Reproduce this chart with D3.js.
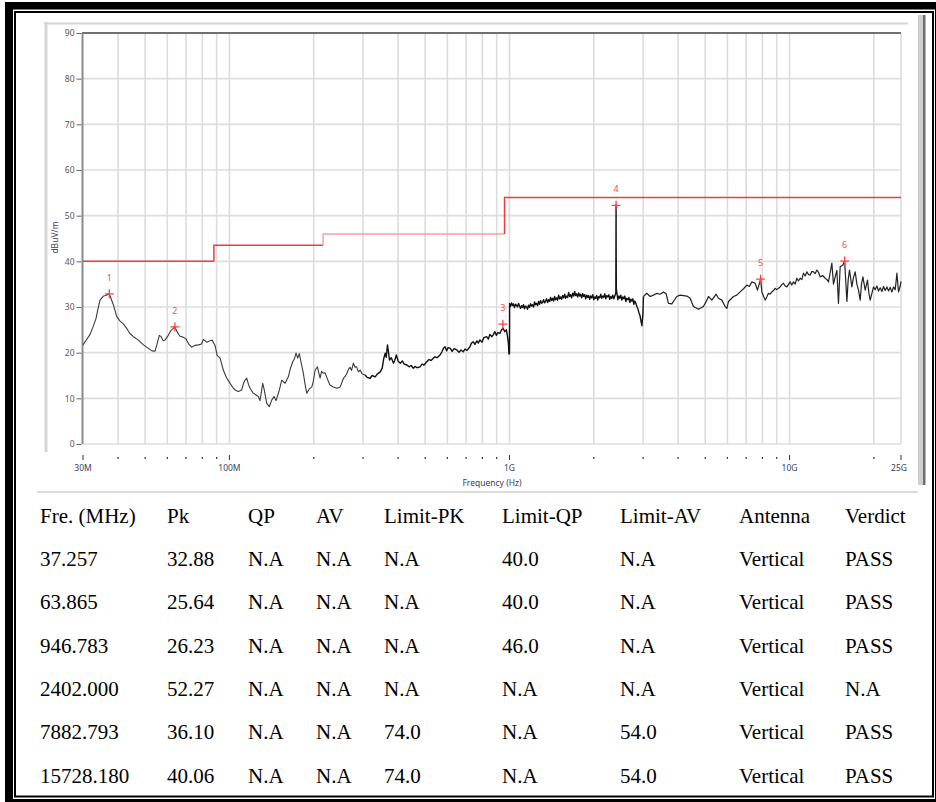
<!DOCTYPE html>
<html><head><meta charset="utf-8">
<script src="https://cdn.jsdelivr.net/npm/d3@7"></script>
<style>body{margin:0;background:#fff}svg{display:block}</style>
</head><body><svg id="c" width="936" height="802"></svg>
<script>
// ---------- data ----------
const yTicks = [0,10,20,30,40,50,60,70,80,90];
const xTickValues = [30,100,1000,10000,25000];
const xTickLabels = ["30M","100M","1G","10G","25G"];
const gridFreqs = [40,50,60,70,80,90,100,200,300,400,500,600,700,800,900,1000,2000,3000,4000,5000,6000,7000,8000,9000,10000,20000];
const limitFreqs = [30,88,216,960,25000];
const limitLevels = [40,43.5,46,54];
const limitColors = ["#f03c3c","#f03c3c","#f4a3a3","#f03c3c"];

// measured trace (frequency MHz, level dBuV/m)
const traceLow = [[30,21.7],[30.7,22.6],[31.8,24.0],[32.6,25.7],[33.4,27.5],[33.9,29.5],[34.5,31.5],[35.5,32.4],[36.2,32.5],[37.257,32.88],[37.8,31.8],[38.5,30.5],[39.6,27.9],[40.7,26.9],[41.8,26.3],[43.1,25.2],[44.1,24.2],[45.4,23.5],[47.2,22.8],[49.3,21.7],[51.2,21.0],[52.9,20.4],[54.2,20.3],[55.1,21.8],[56.2,23.8],[57.0,23.5],[58.0,22.6],[58.9,22.8],[60.5,23.8],[61.9,24.9],[63.865,25.64],[65.0,24.6],[66.6,23.6],[68.3,23.4],[70.0,23.0],[71.7,21.8],[73.3,21.2],[75.4,21.6],[77.4,21.7],[79.5,21.9],[80.7,22.9],[82.9,22.3],[85.3,22.6],[86.7,22.8],[88.9,21.5],[90.4,19.4],[92.6,18.8],[95.1,16.2],[97.4,14.6],[100,13.5]];
const traceMid = [[103.3,12.2],[105.6,11.7],[107.6,11.5],[110.6,11.8],[112.3,13.3],[113.7,14.0],[115.3,14.4],[117.0,13.0],[118.5,12.2],[121.4,11.2],[123.4,10.9],[126.8,10.4],[128.6,9.5],[131.5,13.3],[133.2,11.8],[135.9,8.9],[138.8,8.2],[141.6,9.6],[144.3,10.4],[146.7,9.5],[150.7,11.8],[153.7,14.0],[158.0,13.3],[162.3,14.7],[165.2,16.6],[168.3,18.0],[170.8,18.7],[172.9,19.9],[175.3,18.8],[177.6,19.8],[180.2,17.9],[183.6,15.5],[186.3,13.0],[188.9,11.1],[192.5,12.0],[196.9,12.5],[199.5,13.9],[202.3,16.2],[206.2,16.9],[208.1,15.8],[210.7,14.4],[213.3,15.9],[216.3,15.5],[219.4,15.6],[222.4,14.7],[225.3,13.8],[228.5,12.9],[234.8,12.5],[241.8,12.2],[248.6,12.5],[255.4,14.4],[259.1,14.8],[262.7,15.5],[266.2,16.4],[269.6,16.8],[272.9,16.1],[277.1,17.7],[281,16.8],[284.5,16.9],[288.7,15.8],[292.7,16.2],[297.5,15.4],[305,15.1],[310.2,14.6],[318,14.4],[323.3,15.0],[331.5,14.7],[337,15.3],[345.5,15.8],[351.2,16.6],[355.5,18.7],[360,19.9],[362.9,19.0],[366.8,21.7],[372.8,18.4],[378.3,18.9],[385.4,17.7],[389.4,18.3],[394.3,19.5],[400.8,18.1],[407.4,17.7],[414.2,18.2],[420.9,17.5],[430.2,17.3],[438,16.9],[445.2,17.2],[453.6,16.6],[460,17.0],[467.6,16.7],[479.3,16.9],[487.3,17.5],[495.4,17.3],[506.5,18.0],[516,18.5],[524.5,18.3],[534.5,18.8],[541.8,19.1],[550.8,18.9],[565,19.5],[574.3,20.2],[581.5,21.0],[588.8,21.3],[596.2,20.4],[603.7,21.1],[613.7,21.0],[623.9,20.3],[634.2,20.9],[648.4,20.6],[660.5,20.1],[671.4,20.6],[684,20.2],[693.5,20.8],[705,20.5],[722.5,21.3],[731.4,22.1],[742.2,22.4],[752.5,21.8],[765,22.6],[774.5,22.1],[784.1,22.8],[797.1,22.3],[810.3,23.3],[828.4,23.5],[840.7,23.0],[851.1,24.0],[865.2,23.5],[874.4,23.9],[886.7,24.6],[897.7,23.8],[908.8,24.4],[923.9,24.2],[935.3,24.9],[946.8,25.4],[962.6,24.6],[974.7,25.0],[982.9,23.8],[991.2,22.0],[995.4,19.7],[1000,19.9]];
const traceGHz = [[1001,30.8],[1008,30.1],[1017,30.9],[1025,30.3],[1033,30.7],[1042,29.9],[1051,30.6],[1059,30.4],[1068,30.0],[1077,30.8],[1086,30.2],[1095,29.7],[1104,30.3],[1113,29.9],[1122,30.5],[1131,29.6],[1141,30.2],[1150,30.0],[1160,29.5],[1169,30.4],[1179,29.9],[1189,30.7],[1199,30.2],[1209,30.5],[1219,30.0],[1229,31.1],[1239,30.5],[1249,30.8],[1260,30.3],[1270,31.2],[1280,30.6],[1291,31.4],[1302,30.8],[1312,31.0],[1323,31.6],[1334,30.9],[1345,31.3],[1356,31.8],[1368,31.0],[1379,31.6],[1391,31.2],[1402,32.1],[1414,31.4],[1425,31.9],[1437,31.3],[1449,32.3],[1461,31.6],[1473,32.0],[1485,31.5],[1498,32.6],[1510,31.8],[1523,32.2],[1535,31.7],[1548,32.5],[1561,32.0],[1574,32.8],[1587,31.9],[1600,32.4],[1613,32.1],[1626,33.2],[1640,32.3],[1653,32.7],[1667,32.0],[1681,33.0],[1695,32.4],[1709,33.4],[1723,32.5],[1737,32.9],[1752,32.2],[1766,33.1],[1781,32.4],[1796,32.8],[1811,32.0],[1826,32.9],[1841,32.3],[1856,32.7],[1871,31.8],[1887,32.6],[1903,32.1],[1918,32.5],[1934,31.7],[1950,32.4],[1966,32.0],[1983,32.7],[1999,31.6],[2016,32.2],[2032,31.9],[2049,32.5],[2066,31.5],[2083,32.3],[2100,32.0],[2118,32.8],[2135,31.9],[2153,32.4],[2171,32.1],[2189,32.9],[2207,31.8],[2225,32.5],[2244,32.2],[2262,32.7],[2281,31.7],[2300,32.3],[2319,31.9],[2338,32.6],[2358,31.8],[2377,32.4],[2397,33.0],[2400,45.0],[2402,52.27],[2404,41.0],[2407,34.0],[2437,31.6],[2457,32.4],[2477,31.9],[2497,32.6],[2518,31.5],[2539,32.2],[2560,31.8],[2581,32.4],[2603,31.2],[2624,31.9],[2646,31.6],[2668,32.1],[2690,31.0],[2712,31.7],[2735,31.3],[2757,31.8],[2780,30.6],[2803,31.3],[2827,30.8],[2850,30.1],[2874,29.6],[2897,28.8],[2921,28.2],[2946,27.0],[2970,25.9],[2995,28.5],[3008,32.3]];
const traceHigh = [[3093,33.0],[3178,32.3],[3266,32.6],[3358,33.0],[3451,32.8],[3545,33.3],[3625,32.9],[3694,30.8],[3799,30.7],[3958,32.3],[4067,32.6],[4298,32.4],[4416,31.9],[4538,30.1],[4728,29.5],[4926,30.1],[5066,31.5],[5133,32.3],[5279,31.5],[5469,32.8],[5573,31.9],[5731,31.5],[5889,30.1],[5972,29.7],[6051,31.2],[6305,32.3],[6480,32.6],[6663,33.3],[6850,34.0],[7040,34.8],[7180,34.5],[7335,35.5],[7537,35.2],[7681,33.7],[7882.793,36.10],[7963,33.3],[8182,31.5],[8290,32.2],[8407,33.0],[8520,32.8],[8645,33.3],[8760,33.6],[8884,34.1],[9000,33.8],[9257,34.4],[9380,34.9],[9512,35.2],[9640,34.6],[9782,34.4]];
const traceTop = [[10050,35.5],[10180,34.8],[10326,35.5],[10470,35.0],[10619,36.3],[10760,35.7],[10910,36.3],[11060,36.0],[11211,37.4],[11370,36.8],[11530,37.7],[11690,37.1],[11846,37.0],[12010,37.8],[12173,37.7],[12340,37.3],[12517,38.1],[12690,37.6],[12861,36.6],[13129,36.9],[13402,36.3],[13600,36.0],[13771,35.5],[13964,37.5],[14161,39.6],[14348,35.0],[14551,36.6],[14757,38.0],[14952,30.8],[15162,38.8],[15504,39.2],[15728.18,40.06],[16022,31.2],[16194,36.0],[16368,38.1],[16693,34.4],[16914,36.5],[17153,37.7],[17396,35.0],[17626,33.7],[17875,31.5],[18068,35.0],[18277,36.6],[18627,33.7],[18981,35.9],[19201,33.0],[19407,31.5],[19680,33.0],[19941,34.4],[20223,33.8],[20508,34.6],[20780,33.5],[21073,34.2],[21370,33.4],[21653,34.5],[21958,33.6],[22267,34.4],[22562,33.5],[22879,34.3],[23201,33.3],[23508,34.4],[23839,33.8],[24175,37.4],[24495,33.3],[24840,34.6],[25000,35.6]];

const markerFreq = [37.257,63.865,946.783,2402.000,7882.793,15728.180];
const markerPk = [32.88,25.64,26.23,52.27,36.10,40.06];

const tableHeader = ["Fre. (MHz)","Pk","QP","AV","Limit-PK","Limit-QP","Limit-AV","Antenna","Verdict"];
const colFre = ["37.257","63.865","946.783","2402.000","7882.793","15728.180"];
const colPk = ["32.88","25.64","26.23","52.27","36.10","40.06"];
const colQP = ["N.A","N.A","N.A","N.A","N.A","N.A"];
const colAV = ["N.A","N.A","N.A","N.A","N.A","N.A"];
const colLimitPK = ["N.A","N.A","N.A","N.A","74.0","74.0"];
const colLimitQP = ["40.0","40.0","46.0","N.A","N.A","N.A"];
const colLimitAV = ["N.A","N.A","N.A","N.A","54.0","54.0"];
const colAntenna = ["Vertical","Vertical","Vertical","Vertical","Vertical","Vertical"];
const colVerdict = ["PASS","PASS","PASS","N.A","PASS","PASS"];

// ---------- drawing ----------
const svg = d3.select("#c");
const W = 936, H = 802;
svg.append("rect").attr("width",W).attr("height",H).attr("fill","#fff");

// outer double frame
svg.append("rect").attr("x",5).attr("y",2).attr("width",W).attr("height",H).attr("fill","#000");
svg.append("rect").attr("x",13).attr("y",9.5).attr("width",922).attr("height",789.5).attr("fill","#fff");
svg.append("rect").attr("x",15).attr("y",12).attr("width",918).attr("height",784.5)
  .attr("fill","none").attr("stroke","#000").attr("stroke-width",2);

// chart panel decorations
svg.append("line").attr("x1",46).attr("x2",46).attr("y1",22).attr("y2",452).attr("stroke","#d6d6d6").attr("stroke-width",3);
svg.append("line").attr("x1",44).attr("x2",908).attr("y1",23.5).attr("y2",23.5).attr("stroke","#d6d6d6").attr("stroke-width",2);
svg.append("rect").attr("x",918).attr("y",15).attr("width",5).attr("height",470).attr("fill","#cfcfcf");
svg.append("rect").attr("x",923).attr("y",15).attr("width",2.5).attr("height",470).attr("fill","#6e6e6e");
svg.append("line").attr("x1",37).attr("x2",918).attr("y1",492).attr("y2",492).attr("stroke","#cfcfcf").attr("stroke-width",1.5);

const x = d3.scaleLog().domain([30,25000]).range([83,901]);
const y = d3.scaleLinear().domain([0,90]).range([444,33]);

const g = svg.append("g");
// horizontal grid
g.selectAll(".hg").data(yTicks.filter(v=>v<90)).enter().append("line")
  .attr("x1",83).attr("x2",901).attr("y1",d=>y(d)).attr("y2",d=>y(d))
  .attr("stroke","#dedede").attr("stroke-width",1.6);
// vertical grid
g.selectAll(".vg").data(gridFreqs.concat([25000])).enter().append("line")
  .attr("x1",d=>x(d)).attr("x2",d=>x(d)).attr("y1",33).attr("y2",444)
  .attr("stroke","#dcdcdc").attr("stroke-width",1.6);
// top border and left axis
g.append("line").attr("x1",82).attr("x2",901).attr("y1",y(90)).attr("y2",y(90)).attr("stroke","#707070").attr("stroke-width",2);
g.append("line").attr("x1",82.5).attr("x2",82.5).attr("y1",y(90)).attr("y2",y(0)).attr("stroke","#8a8a8a").attr("stroke-width",2);

// y axis ticks and labels
const yAxis = d3.axisLeft(y).tickValues(yTicks).tickSize(5).tickPadding(2).tickFormat(d3.format("d"));
const ya = svg.append("g").attr("transform","translate(81.5,0)").call(yAxis);
ya.select(".domain").remove();
ya.selectAll(".tick line").attr("stroke","#666").attr("stroke-width",1);
ya.selectAll(".tick text").attr("fill","#555").style("font-family","'Noto Sans',sans-serif").style("font-size","8.5px");

// x axis ticks
const xa = svg.append("g").attr("transform","translate(0,455)");
xa.selectAll(".mt").data(gridFreqs.filter(f=>!xTickValues.includes(f))).enter().append("line")
  .attr("x1",d=>x(d)).attr("x2",d=>x(d)).attr("y1",2).attr("y2",4).attr("stroke","#333").attr("stroke-width",1.2);
xa.selectAll(".Mt").data(xTickValues).enter().append("line")
  .attr("x1",d=>x(d)).attr("x2",d=>x(d)).attr("y1",0).attr("y2",5).attr("stroke","#333").attr("stroke-width",1);
xa.selectAll(".xl").data(xTickValues).enter().append("text")
  .attr("x",(d,i)=>x(d) - (i===4?2:0)).attr("y",16).attr("text-anchor","middle")
  .attr("fill","#3d3d5c").style("font-family","'Noto Sans',sans-serif").style("font-size","8.5px")
  .text((d,i)=>xTickLabels[i]);

svg.append("text").attr("x",492).attr("y",486).attr("text-anchor","middle")
  .attr("fill","#3d3a66").style("font-family","'Noto Sans',sans-serif").style("font-size","8.5px").text("Frequency (Hz)");
svg.append("text").attr("transform","translate(58,237.5) rotate(-90)").attr("text-anchor","middle")
  .attr("fill","#3d3a66").style("font-family","'Noto Sans',sans-serif").style("font-size","8.5px").text("dBuV/m");

// limit line
for (let i=0;i<limitLevels.length;i++){
  const pts = [[limitFreqs[i], i>0?limitLevels[i-1]:limitLevels[i]],[limitFreqs[i],limitLevels[i]],[limitFreqs[i+1],limitLevels[i]]];
  svg.append("path").attr("d",d3.line().x(d=>x(d[0])).y(d=>y(d[1]))(pts))
    .attr("fill","none").attr("stroke",limitColors[i]).attr("stroke-width",1.5);
}

// trace
const line = d3.line().x(d=>x(d[0])).y(d=>y(d[1]));
const trace = traceLow.concat(traceMid, traceGHz, traceHigh, traceTop);
const traceA = trace.filter(d=>d[0]<=305);
const traceB = trace.filter(d=>d[0]>=305 && d[0]<=3008);
const traceC = trace.filter(d=>d[0]>=3008);
svg.append("path").attr("d",line(traceA)).attr("fill","none").attr("stroke","#3a3a3a")
  .attr("stroke-width",1.1).attr("stroke-linejoin","round");
svg.append("path").attr("d",line(traceB)).attr("fill","none").attr("stroke","#111")
  .attr("stroke-width",1.4).attr("stroke-linejoin","round");
svg.append("path").attr("d",line(traceC)).attr("fill","none").attr("stroke","#222")
  .attr("stroke-width",1.2).attr("stroke-linejoin","round");

// markers
const mk = svg.selectAll(".mk").data(markerFreq).enter().append("g")
  .attr("transform",(d,i)=>`translate(${x(d)},${y(markerPk[i])})`);
mk.append("path").attr("d","M-4.5,0H4.5M0,-4.5V4.5").attr("stroke","#ff4040").attr("stroke-width",1.3);
mk.append("text").attr("y",-13).attr("text-anchor","middle").attr("fill","#ff4848")
  .style("font-family","'Noto Sans',sans-serif").style("font-size","9px").text((d,i)=>i+1);

// table
const colX = [40,167,248,316,384,502,620,739,845];
const cols = [colFre,colPk,colQP,colAV,colLimitPK,colLimitQP,colLimitAV,colAntenna,colVerdict];
const tg = svg.append("g").style("font-family","'Liberation Serif','Times New Roman',serif").style("font-size","21px").attr("fill","#000");
tableHeader.forEach((h,c)=>{
  tg.append("text").attr("x",colX[c]).attr("y",522.5).text(h);
  cols[c].forEach((v,r)=>{
    tg.append("text").attr("x",colX[c]).attr("y",522.5+43.35*(r+1)).text(v);
  });
});
</script>
</body></html>
